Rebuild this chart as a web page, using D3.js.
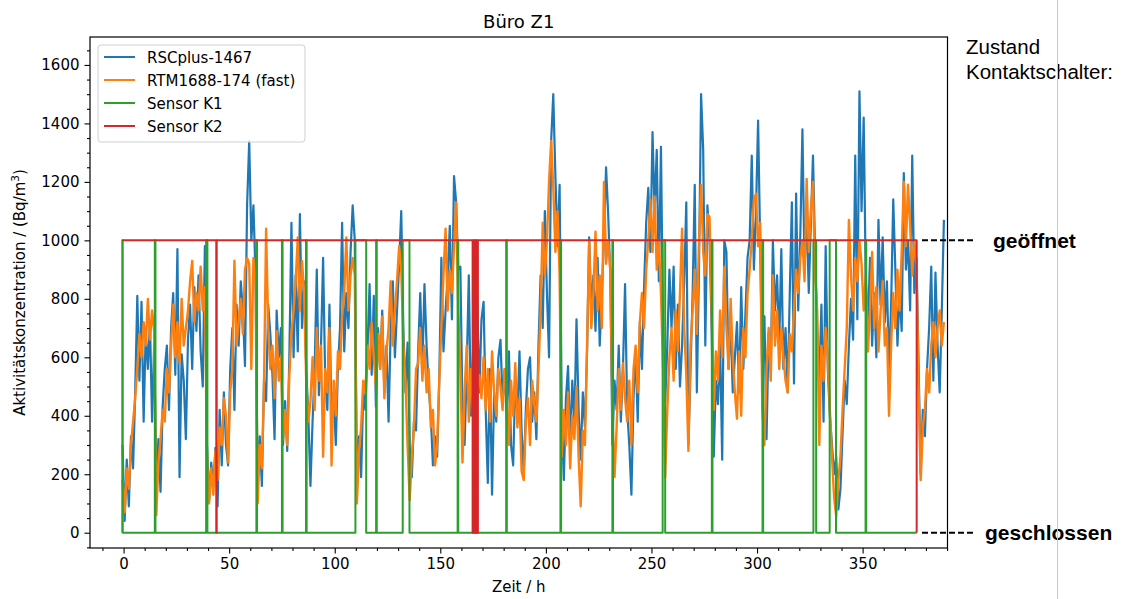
<!DOCTYPE html>
<html>
<head>
<meta charset="utf-8">
<script src="https://cdn.jsdelivr.net/npm/d3@7"></script>
<style>
  html, body { margin: 0; padding: 0; background: #fff; }
  svg { display: block; font-family: "DejaVu Sans", sans-serif; }
</style>
</head>
<body>
<svg id="chart" width="1123" height="599"></svg>
<script>
// hourly samples, first sample at T0 (h)
const T0 = -0.5;

// RSCplus-1467, Bq/m3, one row = 10 h
const rscplus = [
  300, 40, 250, 90, 330, 220, 480, 810, 520, 790,
  380, 690, 560, 720, 380, 650, 160, 320, 140, 430,
  560, 640, 420, 700, 820, 540, 970, 190, 610, 520,
  320, 660, 780, 560, 840, 690, 880, 620, 500, 980,
  300, 110, 240, 160, 290, 90, 420, 230, 480, 300,
  230, 560, 700, 420, 780, 640, 860, 760, 570, 1120,
  1340, 1000, 1120, 880, 160, 330, 160, 520, 450, 780,
  680, 540, 320, 760, 600, 700, 300, 450, 280, 600,
  1060, 600, 880, 620, 1090, 700, 860, 560, 400, 160,
  380, 560, 900, 470, 640, 940, 520, 420, 780, 380,
  480, 300, 560, 700, 1060, 620, 820, 700, 960, 1120,
  1000, 200, 330, 190, 480, 420, 620, 850, 540, 810,
  430, 700, 560, 760, 480, 640, 380, 700, 860, 600,
  760, 920, 1100, 700, 480, 650, 300, 190, 380, 350,
  620, 820, 560, 850, 640, 500, 400, 230, 330, 260,
  520, 940, 620, 760, 880, 1050, 730, 1220, 1130, 900,
  910, 420, 300, 560, 880, 400, 620, 300, 790, 480,
  730, 790, 420, 170, 560, 130, 480, 380, 600, 660,
  450, 560, 380, 620, 300, 230, 520, 400, 620, 350,
  200, 420, 560, 600, 380, 480, 320, 640, 880, 700,
  1100, 820, 600, 1340, 1500, 1220, 980, 1190, 400, 180,
  460, 570, 300, 520, 380, 730, 420, 250, 480, 360,
  620, 1010, 760, 880, 690, 940, 640, 820, 1000, 1250,
  1090, 880, 300, 520, 420, 640, 380, 560, 850, 420,
  300, 130, 460, 620, 380, 720, 560, 840, 1060, 1180,
  960, 1370, 1100, 1310, 860, 1320, 700, 450, 640, 900,
  700, 910, 560, 780, 500, 640, 860, 1130, 300, 560,
  820, 1190, 480, 900, 1500, 1310, 640, 1120, 1000, 700,
  260, 520, 440, 650, 250, 1000, 960, 560, 720, 480,
  600, 720, 480, 840, 560, 750, 940, 1000, 1290, 900,
  1100, 1410, 980, 520, 740, 320, 680, 560, 1000, 760,
  880, 640, 970, 560, 700, 480, 820, 1130, 510, 1160,
  760, 1020, 1380, 900, 1100, 820, 1060, 1290, 960, 700,
  520, 780, 380, 980, 560, 400, 300, 200, 260, 80,
  150, 340, 520, 440, 640, 800, 660, 1290, 730, 1510,
  1100, 1420, 860, 700, 940, 640, 820, 600, 1070, 780,
  1010, 720, 860, 560, 780, 1140, 900, 640, 820, 690,
  1230, 900, 1000, 760, 1290, 820, 940, 580, 200, 420,
  330, 560, 700, 910, 520, 890, 640, 480, 760, 1070,
];

// RTM1688-174 (fast), same time grid
const rtm = [
  180, 70, 220, 150, 300, 380, 460, 560, 680, 600,
  720, 640, 800, 660, 760, 690, 60, 240, 320, 420,
  380, 560, 480, 640, 780, 600, 720, 580, 800, 640,
  700, 760, 860, 930, 720, 820, 760, 910, 760, 840,
  260, 100, 220, 130, 280, 180, 360, 300, 460, 400,
  240, 480, 560, 930, 640, 720, 800, 680, 900, 940,
  920, 560, 940, 860, 100, 300, 220, 500, 1040, 700,
  560, 640, 460, 690, 520, 600, 320, 420, 300, 540,
  680, 760, 860, 1010, 760, 930, 820, 520, 380, 450,
  600, 420, 700, 520, 640, 260, 560, 480, 700, 230,
  520, 400, 620, 560, 740, 820, 1010, 760, 880, 940,
  880, 100, 280, 360, 520, 480, 640, 560, 720, 600,
  500, 680, 560, 740, 460, 620, 700, 860, 640, 760,
  860, 980, 900, 640, 520, 300, 110, 260, 360, 560,
  580, 700, 520, 640, 480, 560, 360, 420, 230, 300,
  520, 700, 880, 1040, 760, 900, 820, 980, 1130, 760,
  560, 240, 480, 640, 380, 560, 420, 600, 480, 540,
  460, 600, 420, 560, 380, 620, 480, 400, 560, 500,
  420, 560, 480, 300, 520, 400, 580, 360, 460, 210,
  180, 380, 460, 300, 520, 440, 380, 560, 760, 1060,
  880, 1000, 1200, 1340, 1180, 960, 1100, 880, 260, 420,
  300, 480, 220, 400, 320, 500, 260, 90, 350, 300,
  640, 1000, 700, 820, 1030, 760, 880, 700, 1200, 920,
  1000, 900, 420, 190, 360, 560, 420, 580, 460, 380,
  520, 300, 560, 640, 480, 720, 820, 700, 900, 1000,
  1140, 960, 1150, 900, 1000, 820, 560, 190, 420, 600,
  700, 520, 760, 620, 820, 1040, 700, 540, 280, 640,
  760, 900, 680, 1000, 1190, 960, 880, 1090, 1080, 760,
  420, 620, 520, 760, 600, 910, 700, 560, 800, 600,
  480, 390, 620, 400, 700, 600, 820, 900, 1000, 1140,
  1160, 980, 1060, 420, 300, 560, 700, 520, 880, 640,
  760, 560, 700, 600, 520, 480, 680, 620, 760, 900,
  820, 940, 1000, 860, 1210, 960, 1100, 1200, 880, 760,
  300, 640, 520, 700, 600, 420, 260, 120, 55, 180,
  260, 420, 560, 700, 1070, 880, 760, 940, 860, 1000,
  920, 760, 880, 620, 760, 960, 700, 840, 620, 760,
  860, 640, 700, 400, 640, 820, 700, 900, 760, 960,
  1200, 980, 1190, 1050, 880, 1000, 920, 500, 180, 360,
  420, 560, 480, 640, 720, 600, 700, 760, 640, 720,
];

// contact sensors: 1000 = open, 0 = closed
const SENSOR_OPEN = 1000;
const sensorStart = -0.6, sensorEnd = 375.6;
// K1 is closed except during these [from, to] hours
const k1Open = [
  [-0.6, -0.4], [14.8, 15.1], [39.1, 39.7], [62.9, 63.2], [75.0, 75.3],
  [86.4, 86.7], [109.8, 114.9], [119.6, 119.9], [132.2, 135.4], [158.2, 158.5],
  [181.2, 181.5], [206.9, 207.2], [231.5, 231.8], [255.3, 256.5], [278.6, 278.9],
  [302.6, 302.9], [326.7, 328.0], [334.4, 337.4], [351.4, 351.7],
];
// K2 is open except during these [from, to] hours
const k2Closed = [
  [43.9, 44.1], [165.3, 165.5], [165.7, 165.9], [166.1, 166.3], [166.5, 166.7],
  [166.9, 167.1], [167.3, 167.5], [167.6, 167.8],
];

const xTicks = [0, 50, 100, 150, 200, 250, 300, 350];
const yTicks = [0, 200, 400, 600, 800, 1000, 1200, 1400, 1600];
const seriesNames = ["RSCplus-1467", "RTM1688-174 (fast)", "Sensor K1", "Sensor K2"];
const seriesColors = ["#1f77b4", "#ff7f0e", "#2ca02c", "#d62728"];
const seriesWidths = [2.2, 2.4, 2, 2];

const svg = d3.select("#chart");
const plot = { left: 90, top: 37, right: 947.5, bottom: 548 };

const x = d3.scaleLinear().domain([-15.9, 390.2]).range([plot.left, plot.right]);
const y = d3.scaleLinear().domain([-52.3, 1695.6]).range([plot.bottom, plot.top]);

svg.append("defs").append("clipPath").attr("id", "clip")
  .append("rect")
  .attr("x", plot.left).attr("y", plot.top)
  .attr("width", plot.right - plot.left).attr("height", plot.bottom - plot.top);

const line = d3.line().x(d => x(d[0])).y(d => y(d[1]));

// step series from the sensor intervals
function k1Points() {
  const pts = [];
  for (const [a, b] of k1Open) {
    pts.push([a, 0], [a, SENSOR_OPEN], [b, SENSOR_OPEN], [b, 0]);
  }
  pts.push([sensorEnd, 0]);
  return pts;
}
function k2Points() {
  const pts = [[sensorStart, SENSOR_OPEN]];
  for (const [a, b] of k2Closed) {
    pts.push([a, SENSOR_OPEN], [a, 0], [b, 0], [b, SENSOR_OPEN]);
  }
  pts.push([sensorEnd, SENSOR_OPEN], [sensorEnd, 0]);
  return pts;
}

const series = [
  rscplus.map((v, i) => [T0 + i, v]),
  rtm.map((v, i) => [T0 + i, v]),
  k1Points(),
  k2Points(),
];

const g = svg.append("g").attr("clip-path", "url(#clip)");
series.forEach((pts, i) => {
  g.append("path")
    .attr("d", line(pts))
    .attr("fill", "none")
    .attr("stroke", seriesColors[i])
    .attr("stroke-width", seriesWidths[i])
    .attr("stroke-linejoin", "round");
});

// axes: major + minor ticks
const xMinor = d3.range(-10, 391, 10).filter(v => v % 50 !== 0);
const yMinor = d3.range(-50, 1651, 50).filter(v => v % 200 !== 0);
const fmt = d3.format("d");

function styleAxis(sel) {
  sel.select(".domain").remove();
  sel.selectAll("line").attr("stroke", "#000").attr("stroke-width", 1.1);
  sel.selectAll("text").attr("font-size", 15).attr("fill", "#000")
    .attr("font-family", "DejaVu Sans, sans-serif");
}

svg.append("g").attr("transform", `translate(0,${plot.bottom})`)
  .call(d3.axisBottom(x).tickValues(xTicks).tickFormat(fmt).tickSize(5.5).tickPadding(4.5))
  .call(styleAxis);
svg.append("g").attr("transform", `translate(0,${plot.bottom})`)
  .call(d3.axisBottom(x).tickValues(xMinor).tickSize(3).tickFormat(""))
  .call(styleAxis);
svg.append("g").attr("transform", `translate(${plot.left},0)`)
  .call(d3.axisLeft(y).tickValues(yTicks).tickFormat(fmt).tickSize(5.5).tickPadding(5))
  .call(styleAxis);
svg.append("g").attr("transform", `translate(${plot.left},0)`)
  .call(d3.axisLeft(y).tickValues(yMinor).tickSize(3).tickFormat(""))
  .call(styleAxis);

svg.append("rect")
  .attr("x", plot.left).attr("y", plot.top)
  .attr("width", plot.right - plot.left).attr("height", plot.bottom - plot.top)
  .attr("fill", "none").attr("stroke", "#000").attr("stroke-width", 1.2);

// titles
const midX = (plot.left + plot.right) / 2;
svg.append("text").attr("x", midX).attr("y", 28)
  .attr("text-anchor", "middle").attr("font-size", 18).text("Büro Z1");
svg.append("text").attr("x", midX).attr("y", 592)
  .attr("text-anchor", "middle").attr("font-size", 15).text("Zeit / h");
const yl = svg.append("text")
  .attr("transform", `translate(25,${(plot.top + plot.bottom) / 2}) rotate(-90)`)
  .attr("text-anchor", "middle").attr("font-size", 15);
yl.append("tspan").text("Aktivitätskonzentration / (Bq/m");
yl.append("tspan").attr("font-size", 10.5).attr("dy", -6).text("3");
yl.append("tspan").attr("dy", 6).text(")");

// legend
const lg = svg.append("g").attr("transform", "translate(98,45)");
lg.append("rect").attr("width", 207).attr("height", 97).attr("rx", 3)
  .attr("fill", "#fff").attr("fill-opacity", 0.8)
  .attr("stroke", "#d0d0d0").attr("stroke-width", 1);
seriesNames.forEach((name, i) => {
  const cy = 12 + i * 23;
  lg.append("line").attr("x1", 6).attr("x2", 37).attr("y1", cy).attr("y2", cy)
    .attr("stroke", seriesColors[i]).attr("stroke-width", 2);
  lg.append("text").attr("x", 49).attr("y", cy + 5.5)
    .attr("font-size", 15).text(name);
});

// contact switch annotation on the right
const ann = svg.append("g").attr("font-family", "Liberation Sans, Arial, sans-serif");
ann.append("text").attr("x", 966).attr("y", 54).attr("font-size", 20.5).text("Zustand");
ann.append("text").attr("x", 966).attr("y", 79).attr("font-size", 20.5).text("Kontaktschalter:");
[[SENSOR_OPEN, "geöffnet", 993], [0, "geschlossen", 985]].forEach(([v, label, tx]) => {
  ann.append("line").attr("x1", 922).attr("x2", 973).attr("y1", y(v)).attr("y2", y(v))
    .attr("stroke", "#000").attr("stroke-width", 2).attr("stroke-dasharray", "6,3");
  ann.append("text").attr("x", tx).attr("y", y(v) + 7.5)
    .attr("font-size", 21).attr("font-weight", "bold").text(label);
});

// page border line at the right
svg.append("line").attr("x1", 1057.5).attr("x2", 1057.5).attr("y1", 0).attr("y2", 599)
  .attr("stroke", "#c8c8c8").attr("stroke-width", 1);
</script>
</body>
</html>
